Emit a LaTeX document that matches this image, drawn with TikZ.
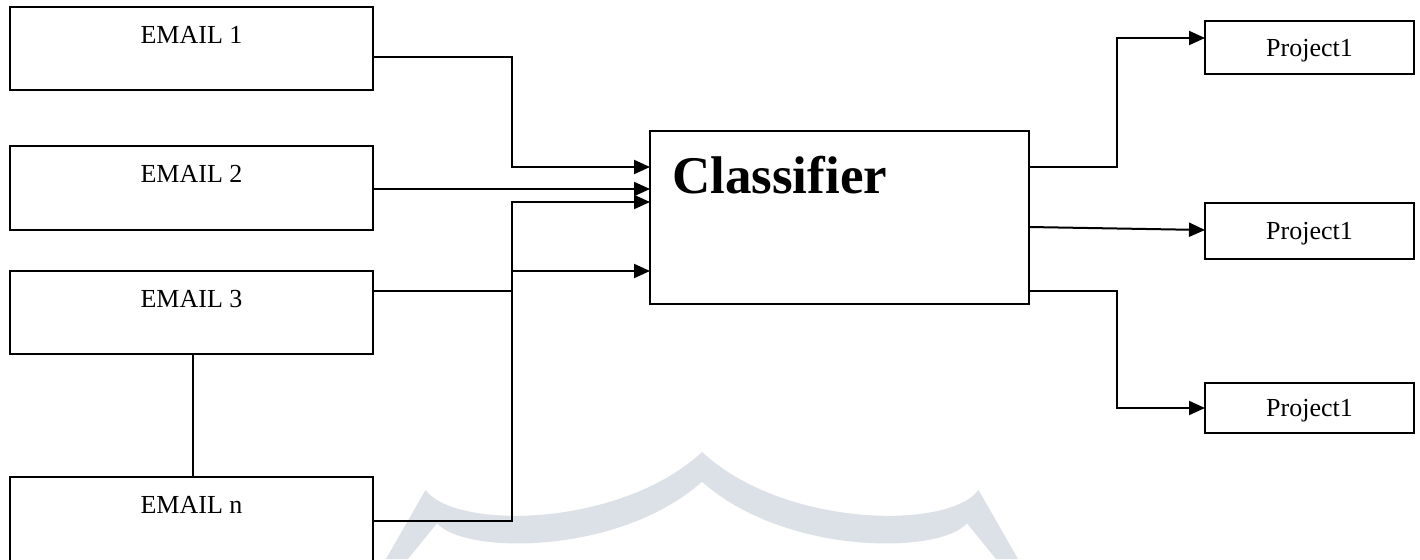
\documentclass[tikz,border=0pt]{standalone}
\usepackage{fontspec}
\setmainfont{Liberation Serif}
\usetikzlibrary{arrows.meta}
\definecolor{wm}{RGB}{219,225,230}
\begin{document}
\begin{tikzpicture}[x=1pt,y=-1pt,
  box/.style={draw, line width=2pt, inner sep=0pt, outer sep=0pt, anchor=north west},
  conn/.style={line width=2pt},
  arr/.style={conn, -{Triangle[length=16pt,width=14pt]}},
  etext/.style={font=\fontsize{26}{30}\selectfont, anchor=base, inner sep=0pt},
  ctext/.style={font=\fontsize{53}{60}\selectfont\bfseries, anchor=base west, inner sep=0pt}]
\useasboundingbox (0,0) rectangle (1420,559);
\clip (0,0) rectangle (1420,559);
\fill[white] (0,0) rectangle (1420,559);
% watermark
\fill[wm] (386,559) -- (425.5,490) .. controls (455,530) and (620,528) .. (702,452)
  .. controls (784,528) and (949,530) .. (978.5,490) -- (1018,559) -- (996,559) -- (967,523.3)
  .. controls (939,555) and (784,555) .. (702,481.7)
  .. controls (620,555) and (465,555) .. (437,523.3) -- (408,559) -- cycle;
% email boxes
\node[box, minimum width=363pt, minimum height=83pt] (e1) at (10,7) {};
\node[box, minimum width=363pt, minimum height=84pt] (e2) at (10,146) {};
\node[box, minimum width=363pt, minimum height=83pt] (e3) at (10,271) {};
\node[box, minimum width=363pt, minimum height=120pt] (en) at (10,477) {};
\node[etext] (t1) at ([yshift=-36.5pt]e1.north) {EMAIL 1};
\node[etext] (t2) at ([yshift=-36.5pt]e2.north) {EMAIL 2};
\node[etext] (t3) at ([yshift=-36.5pt]e3.north) {EMAIL 3};
\node[etext] (tn) at ([yshift=-36.5pt]en.north) {EMAIL n};
% classifier
\node[box, minimum width=379pt, minimum height=173pt] (cls) at (650,131) {};
\node[ctext] (ct) at ([xshift=22pt,yshift=-62.3pt]cls.north west) {Classifier};
% project boxes
\node[box, minimum width=209pt, minimum height=53pt] (p1) at (1205,21) {};
\node[box, minimum width=209pt, minimum height=56pt] (p2) at (1205,203) {};
\node[box, minimum width=209pt, minimum height=50pt] (p3) at (1205,383) {};
\node[etext] (pt1) at ([yshift=-8.6pt]p1.center) {Project1};
\node[etext] (pt2) at ([yshift=-8.6pt]p2.center) {Project1};
\node[etext] (pt3) at ([yshift=-8.6pt]p3.center) {Project1};
% junction columns
\coordinate (jl) at (512,0);
\coordinate (jr) at (1117,0);
% inputs
\draw[arr] (e1.east |- 0,57) -- (jl |- 0,57) -- (jl |- 0,167) -- (cls.west |- 0,167);
\draw[arr] (e2.east |- 0,189) -- (cls.west |- 0,189);
\draw[conn] (e3.east |- 0,291) -- (jl |- 0,291);
\draw[arr] (en.east |- 0,521) -- (jl |- 0,521) -- (jl |- 0,202) -- (cls.west |- 0,202);
\draw[arr] (jl |- 0,271) -- (cls.west |- 0,271);
\draw[conn] ([xshift=1.5pt]e3.south) -- ([xshift=1.5pt]en.north);
% outputs
\draw[arr] (cls.east |- 0,167) -- (jr |- 0,167) -- (jr |- 0,38) -- (p1.west |- 0,38);
\draw[arr] (cls.east |- 0,227) -- (p2.west |- 0,230);
\draw[arr] (cls.east |- 0,291) -- (jr |- 0,291) -- (jr |- 0,408) -- (p3.west |- 0,408);
\end{tikzpicture}
\end{document}
